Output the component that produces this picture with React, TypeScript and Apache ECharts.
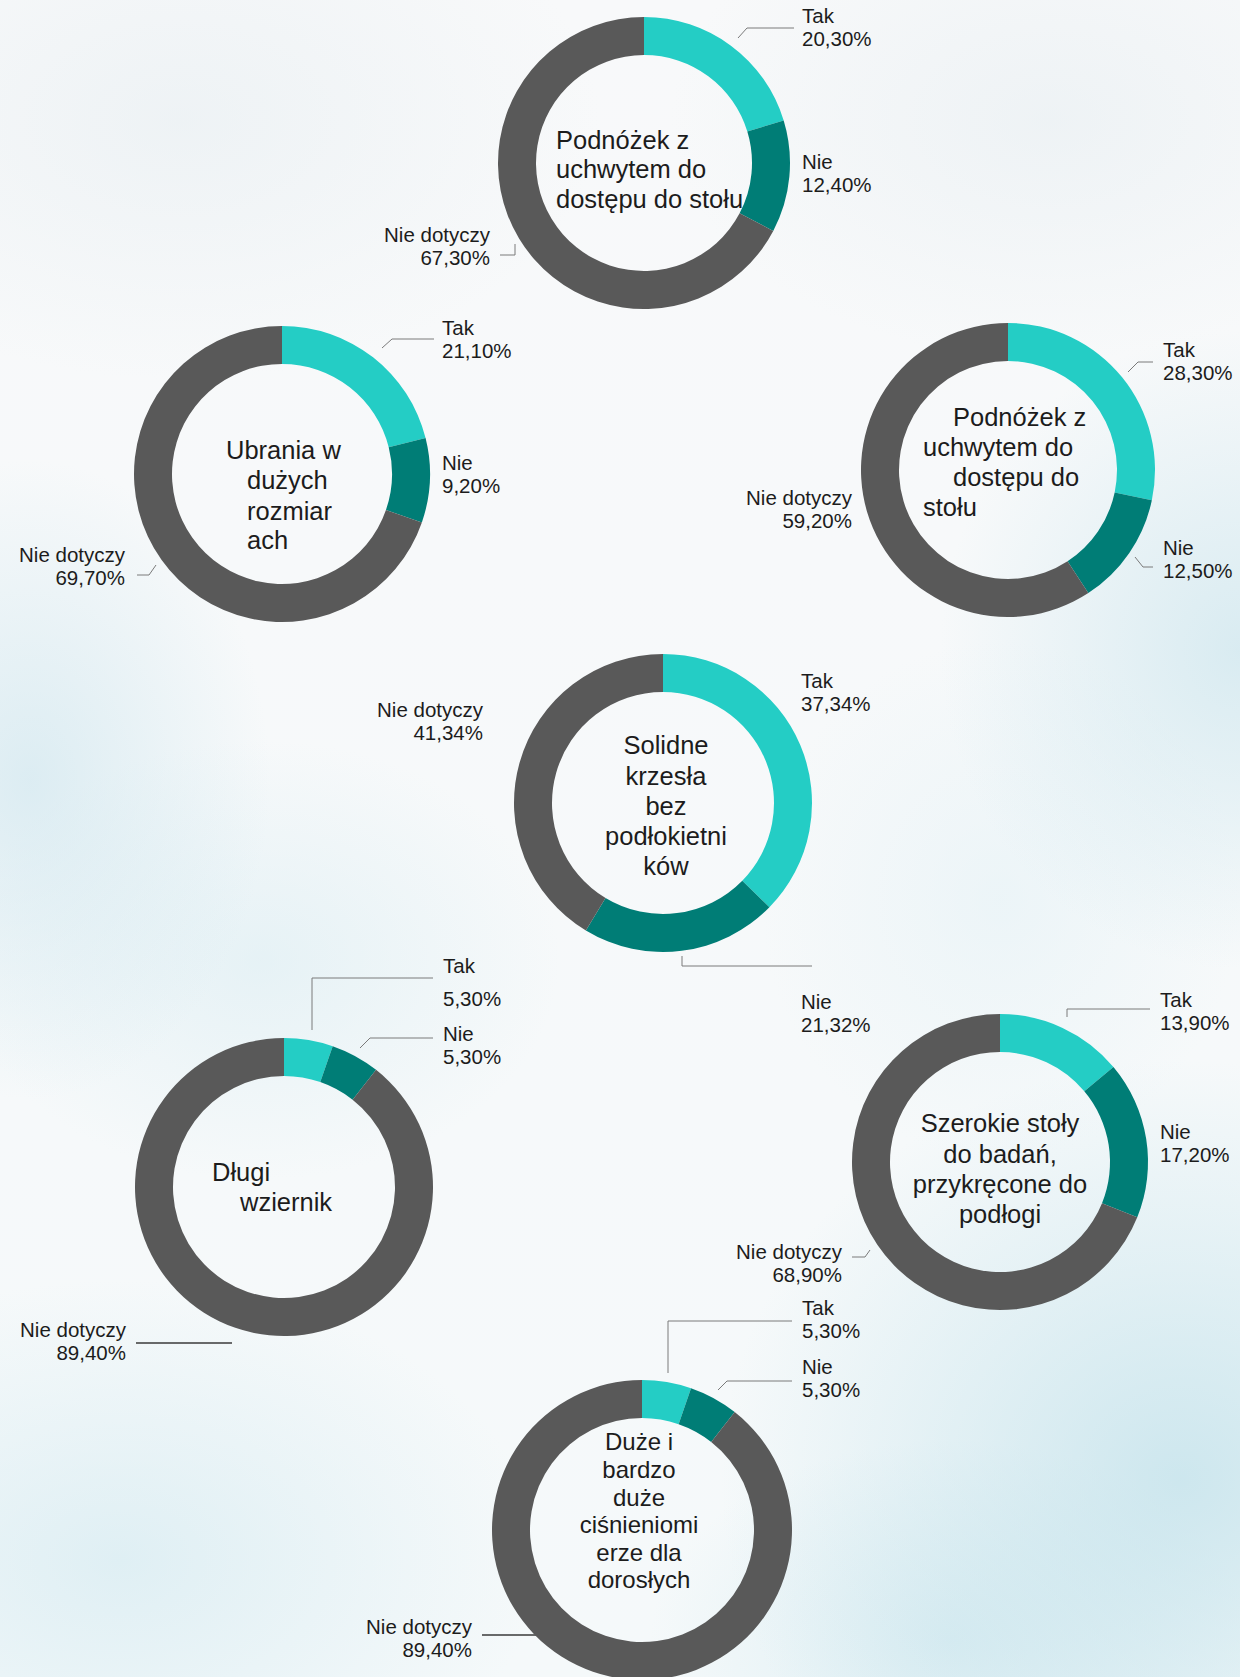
import React, { useEffect, useRef } from "react";
import * as echarts from "echarts";

// ---------- data ----------
const CATEGORIES = ["Tak", "Nie", "Nie dotyczy"];
const VALUES_PODNOZEK_A = [20.3, 12.4, 67.3];
const VALUES_UBRANIA = [21.1, 9.2, 69.7];
const VALUES_PODNOZEK_B = [28.3, 12.5, 59.2];
const VALUES_KRZESLA = [37.34, 21.32, 41.34];
const VALUES_WZIERNIK = [5.3, 5.3, 89.4];
const VALUES_STOLY = [13.9, 17.2, 68.9];
const VALUES_CISNIENIOMIERZE = [5.3, 5.3, 89.4];

const TITLE_PODNOZEK_A = ["Podnóżek z", "uchwytem do", "dostępu do stołu"];
const TITLE_UBRANIA = ["Ubrania w", "dużych", "rozmiar", "ach"];
const TITLE_PODNOZEK_B = ["Podnóżek z", "uchwytem do", "dostępu do", "stołu"];
const TITLE_KRZESLA = ["Solidne", "krzesła", "bez", "podłokietni", "ków"];
const TITLE_WZIERNIK = ["Długi", "wziernik"];
const TITLE_STOLY = ["Szerokie stoły", "do badań,", "przykręcone do", "podłogi"];
const TITLE_CISNIENIOMIERZE = ["Duże i", "bardzo", "duże", "ciśnieniomi", "erze dla", "dorosłych"];

// ---------- styles / layout ----------
const COLORS = ["#24CDC5", "#007D76", "#595959"];
const FONT = '"Liberation Sans", Arial, Helvetica, sans-serif';
const TEXT = "#1c1c1c";
const LINE_GREY = "#7a7a7a";
const LINE_DARK = "#3a3a3a";

type LabelSpec = {
  x: number;
  y: number;
  align: "left" | "right";
  line?: number[][];
  dark?: boolean;
  lh?: number;
};

type PieSpec = {
  values: number[];
  center: [number, number];
  r: number;
  R: number;
  labels: LabelSpec[];
  title: string[];
  titleX: number[];
  titleY: number[];
  titleAlign: "left" | "center";
  titleSize: number;
};

const PIES: PieSpec[] = [
  {
    values: VALUES_PODNOZEK_A,
    center: [644, 163],
    r: 108,
    R: 146,
    labels: [
      { x: 802, y: 27, align: "left", line: [[738, 38], [747, 28], [794, 28]] },
      { x: 802, y: 173, align: "left" },
      { x: 490, y: 246, align: "right", line: [[515, 244], [515, 255], [500, 255]] },
    ],
    title: TITLE_PODNOZEK_A,
    titleX: [556, 556, 556],
    titleY: [140, 169, 199],
    titleAlign: "left",
    titleSize: 25.5,
  },
  {
    values: VALUES_UBRANIA,
    center: [282, 474],
    r: 110,
    R: 148,
    labels: [
      { x: 442, y: 339, align: "left", line: [[382, 348], [392, 339], [434, 339]] },
      { x: 442, y: 474, align: "left" },
      { x: 125, y: 566, align: "right", line: [[156, 565], [149, 575], [137, 575]] },
    ],
    title: TITLE_UBRANIA,
    titleX: [226, 247, 247, 247],
    titleY: [450, 480, 511, 540],
    titleAlign: "left",
    titleSize: 25.5,
  },
  {
    values: VALUES_PODNOZEK_B,
    center: [1008, 470],
    r: 109,
    R: 147,
    labels: [
      { x: 1163, y: 361, align: "left", line: [[1128, 372], [1138, 362], [1153, 362]] },
      { x: 1163, y: 559, align: "left", line: [[1135, 557], [1143, 567], [1153, 567]] },
      { x: 852, y: 509, align: "right" },
    ],
    title: TITLE_PODNOZEK_B,
    titleX: [953, 923, 953, 923],
    titleY: [417, 447, 477, 507],
    titleAlign: "left",
    titleSize: 25.5,
  },
  {
    values: VALUES_KRZESLA,
    center: [663, 803],
    r: 111,
    R: 149,
    labels: [
      { x: 801, y: 692, align: "left" },
      { x: 801, y: 1013, align: "left", line: [[682, 956], [682, 966], [812, 966]] },
      { x: 483, y: 721, align: "right" },
    ],
    title: TITLE_KRZESLA,
    titleX: [666, 666, 666, 666, 666],
    titleY: [745, 776, 806, 836, 866],
    titleAlign: "center",
    titleSize: 25.5,
  },
  {
    values: VALUES_WZIERNIK,
    center: [284, 1187],
    r: 111,
    R: 149,
    labels: [
      { x: 443, y: 982, align: "left", lh: 33, line: [[312, 1030], [312, 978], [433, 978]] },
      { x: 443, y: 1045, align: "left", line: [[360, 1048], [370, 1038], [433, 1038]] },
      { x: 126, y: 1341, align: "right", dark: true, line: [[136, 1343], [184, 1343], [232, 1343]] },
    ],
    title: TITLE_WZIERNIK,
    titleX: [212, 240],
    titleY: [1172, 1202],
    titleAlign: "left",
    titleSize: 25.5,
  },
  {
    values: VALUES_STOLY,
    center: [1000, 1162],
    r: 110,
    R: 148,
    labels: [
      { x: 1160, y: 1011, align: "left", line: [[1067, 1017], [1067, 1009], [1150, 1009]] },
      { x: 1160, y: 1143, align: "left" },
      { x: 842, y: 1263, align: "right", line: [[870, 1250], [865, 1257], [852, 1257]] },
    ],
    title: TITLE_STOLY,
    titleX: [1000, 1000, 1000, 1000],
    titleY: [1123, 1154, 1184, 1214],
    titleAlign: "center",
    titleSize: 25.5,
  },
  {
    values: VALUES_CISNIENIOMIERZE,
    center: [642, 1530],
    r: 112,
    R: 150,
    labels: [
      { x: 802, y: 1319, align: "left", line: [[668, 1373], [668, 1321], [792, 1321]] },
      { x: 802, y: 1378, align: "left", line: [[718, 1390], [727, 1381], [792, 1381]] },
      { x: 472, y: 1638, align: "right", dark: true, line: [[482, 1635], [536, 1635], [590, 1635]] },
    ],
    title: TITLE_CISNIENIOMIERZE,
    titleX: [639, 639, 639, 639, 639, 639],
    titleY: [1441, 1469, 1497, 1524, 1552, 1579],
    titleAlign: "center",
    titleSize: 24,
  },
];

const fmt = (v: number) => v.toFixed(2).replace(".", ",") + "%";

function buildOption() {
  const series = PIES.map((p, si) => ({
    type: "pie",
    name: "pie" + si,
    center: p.center,
    radius: [p.r, p.R],
    startAngle: 90,
    clockwise: true,
    avoidLabelOverlap: false,
    silent: true,
    itemStyle: { borderWidth: 0 },
    label: {
      show: true,
      position: "outside",
      color: TEXT,
      fontFamily: FONT,
      fontSize: 20.5,
      lineHeight: 23.5,
      formatter: (params: any) => params.name + "\n" + fmt(params.value),
    },
    labelLine: {
      show: true,
      length: 5,
      length2: 5,
      lineStyle: { color: LINE_GREY, width: 1 },
    },
    labelLayout: (params: any) => {
      const s = p.labels[params.dataIndex];
      const out: any = {
        x: s.x,
        y: s.y,
        align: s.align,
        verticalAlign: "middle",
      };
      if (s.line) out.labelLinePoints = s.line;
      return out;
    },
    data: CATEGORIES.map((name, i) => {
      const s = p.labels[i];
      const item: any = {
        name,
        value: p.values[i],
        itemStyle: { color: COLORS[i] },
      };
      if (!s.line) item.labelLine = { show: false };
      else if (s.dark) item.labelLine = { show: true, lineStyle: { color: LINE_DARK, width: 1.5 } };
      if (s.lh) item.label = { lineHeight: s.lh };
      return item;
    }),
  }));

  const graphic: any[] = [];
  PIES.forEach((p) => {
    p.title.forEach((line, i) => {
      graphic.push({
        type: "text",
        x: p.titleX[i],
        y: p.titleY[i],
        silent: true,
        z: 100,
        style: {
          text: line,
          fill: TEXT,
          font: `${p.titleSize}px ${FONT}`,
          align: p.titleAlign,
          verticalAlign: "middle",
        },
      });
    });
  });

  return {
    animation: false,
    backgroundColor: "transparent",
    tooltip: { show: false },
    series,
    graphic,
  };
}

const BG = [
  "radial-gradient(ellipse 240px 320px at 30px 780px, rgba(198,226,236,0.55), rgba(198,226,236,0) 100%)",
  "radial-gradient(ellipse 300px 220px at 260px 960px, rgba(210,233,240,0.45), rgba(210,233,240,0) 100%)",
  "radial-gradient(ellipse 300px 320px at 1240px 650px, rgba(192,224,234,0.55), rgba(192,224,234,0) 100%)",
  "radial-gradient(ellipse 240px 260px at 1000px 900px, rgba(220,238,244,0.4), rgba(220,238,244,0) 100%)",
  "radial-gradient(ellipse 460px 420px at 1180px 1480px, rgba(188,223,233,0.7), rgba(188,223,233,0) 100%)",
  "radial-gradient(ellipse 420px 280px at 120px 1560px, rgba(205,231,239,0.55), rgba(205,231,239,0) 100%)",
  "radial-gradient(ellipse 300px 200px at 950px 1640px, rgba(196,227,236,0.5), rgba(196,227,236,0) 100%)",
  "radial-gradient(ellipse 420px 260px at 180px 120px, rgba(228,236,240,0.5), rgba(228,236,240,0) 100%)",
  "radial-gradient(ellipse 380px 240px at 1050px 120px, rgba(228,236,240,0.5), rgba(228,236,240,0) 100%)",
  "linear-gradient(#f8f9fa, #f5f9fa)",
].join(", ");

export default function App() {
  const ref = useRef<HTMLDivElement | null>(null);
  useEffect(() => {
    if (!ref.current) return;
    const chart = echarts.init(ref.current, undefined, { renderer: "svg" });
    chart.setOption(buildOption() as any);
    return () => chart.dispose();
  }, []);
  return (
    <div
      style={{
        position: "absolute",
        left: 0,
        top: 0,
        width: 1240,
        height: 1677,
        background: BG,
        overflow: "hidden",
      }}
    >
      <div ref={ref} style={{ width: 1240, height: 1677 }} />
    </div>
  );
}
